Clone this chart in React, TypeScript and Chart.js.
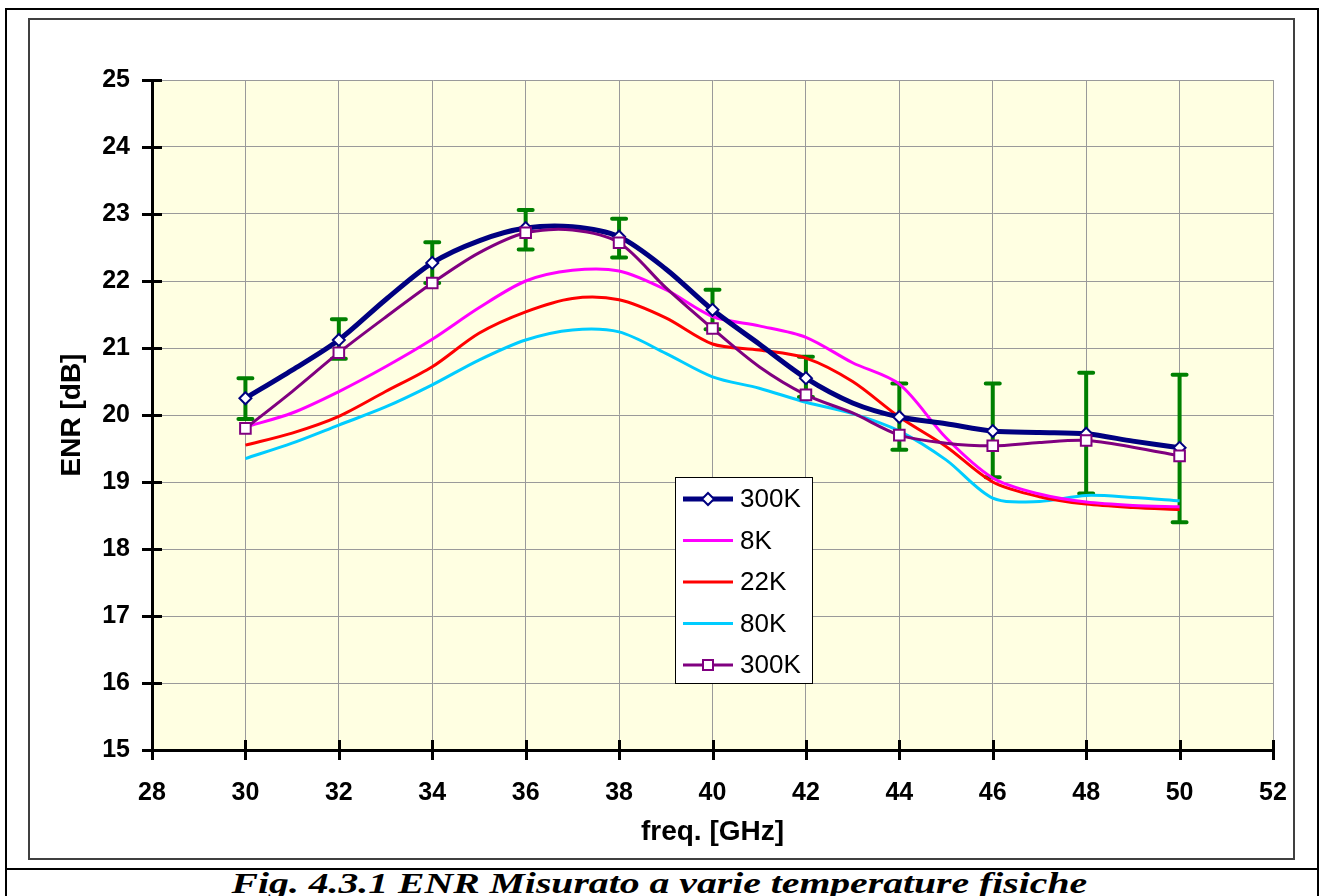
import React, { useEffect, useLayoutEffect, useRef, useState } from "react";
import { Chart, registerables } from "chart.js";

Chart.register(...registerables);

// ---------------- data ----------------
const freq = [30, 31, 32, 33, 34, 35, 36, 37, 38, 39, 40, 41, 42, 43, 44, 45, 46, 47, 48, 49, 50];
const enr300K = [20.25, 20.67, 21.12, 21.72, 22.27, 22.6, 22.79, 22.81, 22.66, 22.18, 21.57, 21.06, 20.55, 20.18, 19.97, 19.87, 19.76, 19.74, 19.72, 19.61, 19.51];
const enr8K = [19.82, 20.03, 20.35, 20.72, 21.13, 21.6, 22.0, 22.16, 22.15, 21.87, 21.47, 21.33, 21.16, 20.78, 20.46, 19.66, 19.06, 18.82, 18.7, 18.65, 18.63];
const enr22K = [19.55, 19.73, 19.98, 20.35, 20.72, 21.22, 21.54, 21.74, 21.72, 21.45, 21.06, 20.97, 20.85, 20.5, 19.97, 19.53, 19.0, 18.78, 18.67, 18.62, 18.59];
const enr80K = [19.35, 19.58, 19.85, 20.12, 20.45, 20.82, 21.12, 21.27, 21.24, 20.92, 20.57, 20.4, 20.19, 20.02, 19.76, 19.33, 18.76, 18.71, 18.8, 18.77, 18.72];
const enr300Kb = [19.8, 20.35, 20.93, 21.46, 21.97, 22.42, 22.72, 22.76, 22.57, 21.9, 21.29, 20.72, 20.3, 20.03, 19.7, 19.58, 19.54, 19.59, 19.62, 19.52, 19.39];

const errFreq = [30, 32, 34, 36, 38, 40, 42, 44, 46, 48, 50];
const errHigh = [20.55, 21.43, 22.58, 23.06, 22.93, 21.87, 20.87, 20.47, 20.47, 20.63, 20.6];
const errLow = [19.94, 20.84, 21.97, 22.47, 22.35, 21.28, 20.27, 19.48, 19.07, 18.83, 18.4];

const seriesLabels = ["300K", "8K", "22K", "80K", "300K"];
const xMin = 28, xMax = 52, xStep = 2;
const yMin = 15, yMax = 25, yStep = 1;
const xTitle = "freq. [GHz]";
const yTitle = "ENR [dB]";
const caption = "Fig. 4.3.1 ENR Misurato a varie temperature fisiche";

// ---------------- styles ----------------
const NAVY = "#000080";
const MAGENTA = "#FF00FF";
const RED = "#FF0000";
const CYAN = "#00CCFF";
const PURPLE = "#800080";
const GREEN = "#008000";
const PLOT_BG = "rgb(255,255,226)";
const GRID = "#9a9a9a";
const SANS = "'Liberation Sans', Arial, sans-serif";

const pts = (vals: number[]) => freq.map((f, i) => ({ x: f, y: vals[i] }));
const markerRadius = (r: number) => (c: any) => (c.raw && c.raw.x % 2 === 0 ? r : 0);

const plotBg = {
  id: "plotBg",
  beforeDraw(chart: any) {
    const { ctx, chartArea: a } = chart;
    ctx.save();
    ctx.fillStyle = PLOT_BG;
    ctx.fillRect(a.left, a.top, a.right - a.left, a.bottom - a.top);
    ctx.restore();
  },
};

const errorBars = {
  id: "errorBars",
  beforeDatasetsDraw(chart: any) {
    const { ctx } = chart;
    const x = chart.scales.x, y = chart.scales.y;
    ctx.save();
    ctx.strokeStyle = GREEN;
    ctx.lineWidth = 4;
    ctx.lineCap = "round";
    errFreq.forEach((f, i) => {
      const px = x.getPixelForValue(f);
      const t = y.getPixelForValue(errHigh[i]);
      const b = y.getPixelForValue(errLow[i]);
      ctx.beginPath();
      ctx.moveTo(px, t); ctx.lineTo(px, b);
      ctx.moveTo(px - 7, t); ctx.lineTo(px + 7, t);
      ctx.moveTo(px - 7, b); ctx.lineTo(px + 7, b);
      ctx.stroke();
    });
    ctx.restore();
  },
};

const crossTicks = {
  id: "crossTicks",
  afterDatasetsDraw(chart: any) {
    const { ctx, chartArea: a } = chart;
    const x = chart.scales.x, y = chart.scales.y;
    ctx.save();
    ctx.strokeStyle = "#000";
    ctx.lineWidth = 3;
    y.ticks.forEach((t: any) => {
      const py = Math.round(y.getPixelForValue(t.value)) + 0.5;
      ctx.beginPath(); ctx.moveTo(a.left - 10, py); ctx.lineTo(a.left + 10, py); ctx.stroke();
    });
    x.ticks.forEach((t: any) => {
      const px = Math.round(x.getPixelForValue(t.value)) + 0.5;
      ctx.beginPath(); ctx.moveTo(px, a.bottom - 10); ctx.lineTo(px, a.bottom + 10); ctx.stroke();
    });
    ctx.restore();
  },
};

const boxLegend = {
  id: "boxLegend",
  afterDraw(chart: any) {
    const { ctx, chartArea: a } = chart;
    const left = a.left + 523, top = a.top + 397, w = 137, h = 206;
    ctx.save();
    ctx.fillStyle = "#fff";
    ctx.fillRect(left, top, w, h);
    ctx.strokeStyle = "#000";
    ctx.lineWidth = 1;
    ctx.strokeRect(left + 0.5, top + 0.5, w, h);
    chart.data.datasets.forEach((ds: any, i: number) => {
      const cy = top + 22 + i * 41.5;
      ctx.strokeStyle = ds.borderColor;
      ctx.lineWidth = ds.borderWidth;
      ctx.beginPath(); ctx.moveTo(left + 8, cy); ctx.lineTo(left + 58, cy); ctx.stroke();
      if (ds.legendMarker) {
        ctx.fillStyle = "#fff";
        ctx.strokeStyle = ds.borderColor;
        ctx.lineWidth = 2;
        const cx = left + 33;
        if (ds.legendMarker === "diamond") {
          const r = 6;
          ctx.beginPath();
          ctx.moveTo(cx, cy - r); ctx.lineTo(cx + r, cy); ctx.lineTo(cx, cy + r); ctx.lineTo(cx - r, cy); ctx.closePath();
          ctx.fill(); ctx.stroke();
        } else {
          const s = 5;
          ctx.fillRect(cx - s, cy - s, 2 * s, 2 * s);
          ctx.strokeRect(cx - s, cy - s, 2 * s, 2 * s);
        }
      }
      ctx.fillStyle = "#000";
      ctx.font = `26px ${SANS}`;
      ctx.textBaseline = "middle";
      ctx.textAlign = "left";
      ctx.fillText(ds.label, left + 65, cy + 1);
    });
    ctx.restore();
  },
};

function Caption() {
  const ref = useRef<HTMLSpanElement>(null);
  const [scale, setScale] = useState(1);
  useLayoutEffect(() => {
    if (ref.current) {
      const w = ref.current.offsetWidth;
      if (w > 0) setScale(856 / w);
    }
  }, []);
  return (
    <div
      style={{
        position: "absolute",
        left: 0,
        top: 866,
        width: 1319,
        textAlign: "center",
        lineHeight: "34px",
      }}
    >
      <span
        ref={ref}
        style={{
          display: "inline-block",
          fontFamily: "'Liberation Serif', 'Times New Roman', serif",
          fontWeight: "bold",
          fontStyle: "italic",
          fontSize: 30,
          whiteSpace: "nowrap",
          transform: `scaleX(${scale})`,
          transformOrigin: "center",
        }}
      >
        {caption}
      </span>
    </div>
  );
}

export default function App() {
  const canvasRef = useRef<HTMLCanvasElement>(null);

  useEffect(() => {
    if (!canvasRef.current) return;
    const chart = new Chart(canvasRef.current, {
      type: "line",
      data: {
        datasets: [
          {
            label: seriesLabels[0],
            data: pts(enr300K),
            borderColor: NAVY,
            borderWidth: 5,
            pointStyle: "rectRot",
            pointRadius: markerRadius(6),
            pointBackgroundColor: "#fff",
            pointBorderColor: NAVY,
            pointBorderWidth: 2,
            order: 1,
            legendMarker: "diamond",
          } as any,
          {
            label: seriesLabels[1],
            data: pts(enr8K),
            borderColor: MAGENTA,
            borderWidth: 3,
            pointRadius: 0,
            order: 2,
          },
          {
            label: seriesLabels[2],
            data: pts(enr22K),
            borderColor: RED,
            borderWidth: 3,
            pointRadius: 0,
            order: 3,
          },
          {
            label: seriesLabels[3],
            data: pts(enr80K),
            borderColor: CYAN,
            borderWidth: 3,
            pointRadius: 0,
            order: 4,
          },
          {
            label: seriesLabels[4],
            data: pts(enr300Kb),
            borderColor: PURPLE,
            borderWidth: 3,
            pointStyle: "rect",
            pointRadius: markerRadius(7.5),
            pointBackgroundColor: "#fff",
            pointBorderColor: PURPLE,
            pointBorderWidth: 2,
            order: 0,
            legendMarker: "square",
          } as any,
        ],
      },
      options: {
        animation: false,
        responsive: false,
        devicePixelRatio: 1,
        layout: { padding: { left: 0, top: 60, right: 0, bottom: 0 } },
        elements: { line: { tension: 0.3, fill: false } },
        plugins: { legend: { display: false }, tooltip: { enabled: false } },
        scales: {
          x: {
            type: "linear",
            min: xMin,
            max: xMax,
            ticks: {
              stepSize: xStep,
              padding: 28,
              color: "#000",
              font: { family: SANS, size: 25, weight: "bold" },
            },
            grid: { color: GRID, lineWidth: 1, drawTicks: false },
            border: { color: "#000", width: 3 },
            title: {
              display: true,
              text: xTitle,
              color: "#000",
              font: { family: SANS, size: 28, weight: "bold" },
              padding: { top: 0, bottom: 9 },
            },
            afterFit: (s: any) => {
              s.height = 108;
              s.paddingRight = 20;
            },
          },
          y: {
            type: "linear",
            min: yMin,
            max: yMax,
            ticks: {
              stepSize: yStep,
              padding: 22,
              color: "#000",
              font: { family: SANS, size: 25, weight: "bold" },
            },
            grid: { color: GRID, lineWidth: 1, drawTicks: false },
            border: { color: "#000", width: 3 },
            title: {
              display: true,
              text: yTitle,
              color: "#000",
              font: { family: SANS, size: 28, weight: "bold" },
              padding: { top: 25, bottom: 0 },
            },
            afterFit: (s: any) => { s.width = 122; },
          },
        },
      } as any,
      plugins: [plotBg, errorBars, crossTicks, boxLegend],
    });
    return () => chart.destroy();
  }, []);

  return (
    <div
      style={{
        position: "absolute",
        left: 0,
        top: 0,
        width: 1319,
        height: 896,
        overflow: "hidden",
        background: "#fff",
      }}
    >
      <div
        style={{
          position: "absolute",
          left: 5,
          top: 8,
          width: 1314,
          height: 900,
          border: "2px solid #000",
          boxSizing: "border-box",
        }}
      />
      <div style={{ position: "absolute", left: 5, top: 868, width: 1314, height: 2, background: "#000" }} />
      <div
        style={{
          position: "absolute",
          left: 28,
          top: 18,
          width: 1267,
          height: 842,
          border: "2px solid #404040",
          boxSizing: "border-box",
        }}
      >
        <canvas ref={canvasRef} width={1263} height={838} style={{ display: "block", width: 1263, height: 838 }} />
      </div>
      <Caption />
    </div>
  );
}
